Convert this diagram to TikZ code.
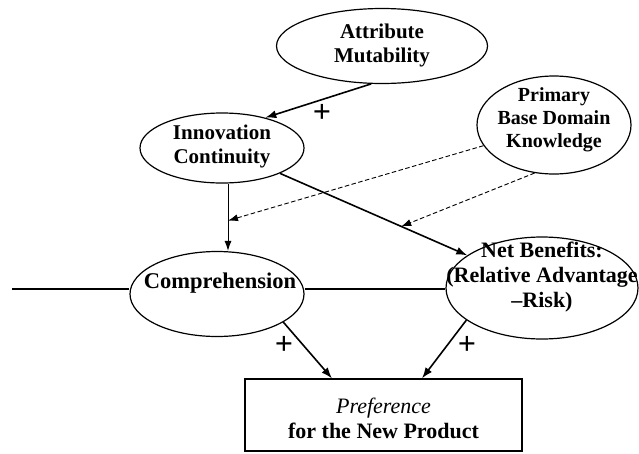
\documentclass[tikz,border=0pt]{standalone}
\usepackage{fontspec}
\setmainfont{Liberation Serif}
\usetikzlibrary{shapes.geometric,arrows.meta,calc}
\begin{document}
\begin{tikzpicture}[x=1pt,y=-1pt,
  oval/.style={ellipse, draw, line width=1.2pt, inner sep=0pt},
  lbl/.style={font=\fontsize{21}{24}\selectfont\bfseries, align=center, inner sep=0pt},
  biglbl/.style={font=\fontsize{22}{25}\selectfont\bfseries, align=center, inner sep=0pt},
  plus/.style={font=\fontsize{32}{32}\selectfont\bfseries, inner sep=0pt},
  arr/.style={-{Latex[length=11pt,width=8pt]}, line width=1.6pt},
  thinarr/.style={-{Latex[length=10pt,width=7pt]}, line width=1pt},
  darr/.style={-{Latex[length=10pt,width=7pt]}, line width=0.9pt, dash pattern=on 4.5pt off 2.5pt},
  ln/.style={line width=1.3pt}]
\useasboundingbox (0,0) rectangle (639,453);

% ellipses
\node[oval, minimum width=211pt, minimum height=75pt] (am) at (382,46) {};
\node[oval, minimum width=164pt, minimum height=70pt] (ic) at (222,148) {};
\node[oval, minimum width=154pt, minimum height=98pt] (prim) at (554,125) {};
\node[oval, minimum width=174pt, minimum height=85pt] (comp) at (217,294) {};
\node[oval, minimum width=192pt, minimum height=102pt] (nb) at (542,288) {};
\node[draw, line width=1.2pt, minimum width=277pt, minimum height=72pt, inner sep=0pt] (pref) at (383.5,415) {};

% texts
\node[lbl] (amt) at (382,45) {Attribute\\Mutability};
\node[lbl] (ict) at (222,146) {Innovation\\Continuity};
\node[lbl, font=\fontsize{20}{23}\selectfont\bfseries] (primt) at (554,120) {Primary\\Base Domain\\Knowledge};
\node[biglbl, font=\fontsize{22.5}{25}\selectfont\bfseries] (compt) at (220,283) {Comprehension};
\node[biglbl] (nbt) at (542,277) {Net Benefits:\\(Relative Advantage\\\textendash Risk)};
\node[biglbl] (preft) at (383.5,418) {\textit{\mdseries Preference}\\for the New Product};

% plus signs
\node[plus] (p1) at (322,113) {+};
\node[plus] (p2) at (284,345) {+};
\node[plus] (p3) at (467,345) {+};

% helper coordinates
\coordinate (lft) at (12,289);
\coordinate (v1) at ([xshift=6pt]ic.south);
\coordinate (v2) at (v1 |- comp.north);
\coordinate (d1) at ($(v1)!0.55!(v2)$);
\coordinate (d2) at ($(ic)!0.56!(nb)$);

% connectors
\draw[ln] (lft) -- (lft -| comp.west);
\draw[ln] (comp.east |- lft) -- (nb.west |- lft);
\draw[arr] (am.254) -- (ic.35);
\draw[thinarr] (v1) -- (v2);
\draw[arr] (ic) -- (nb);
\draw[darr] (prim) -- (d1);
\draw[darr] (prim.248) -- (d2);
\draw[arr] (comp.-23) -- ([xshift=-51.5pt]pref.north);
\draw[arr] (nb.203) -- ([xshift=38.5pt]pref.north);
\end{tikzpicture}
\end{document}
